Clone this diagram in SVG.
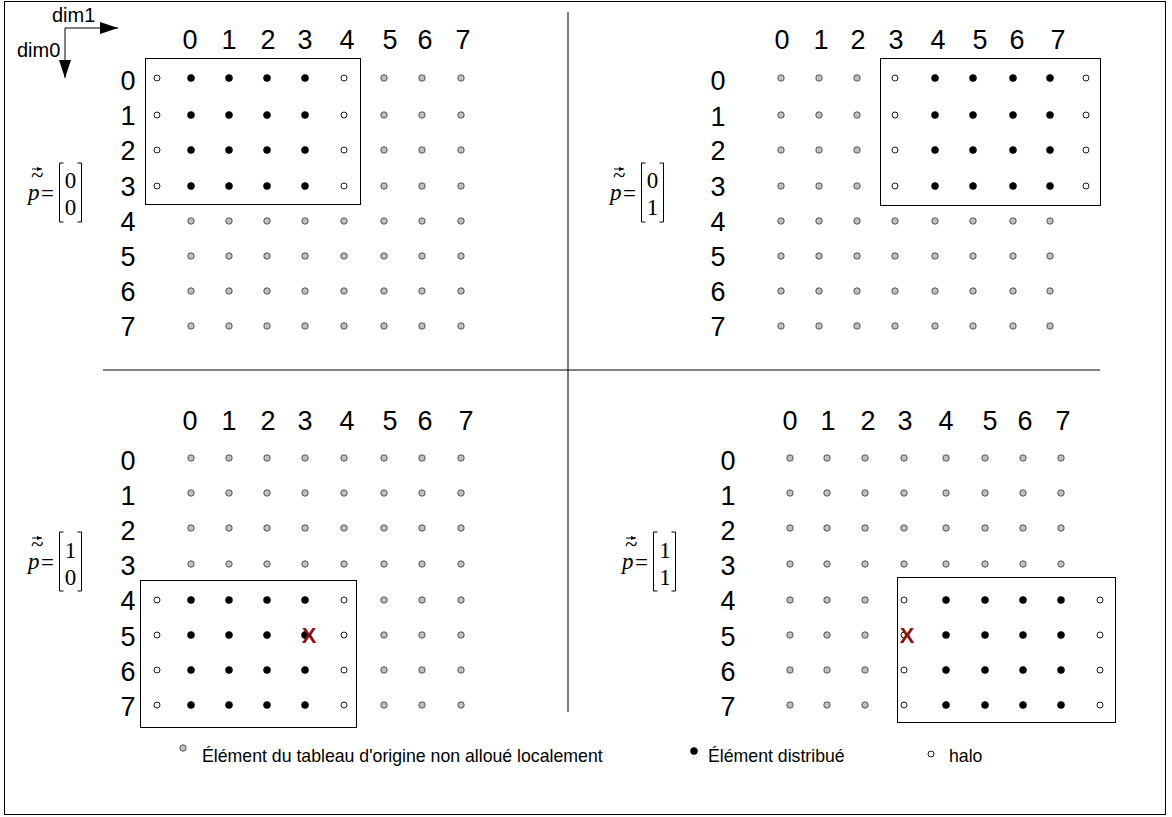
<svg xmlns="http://www.w3.org/2000/svg" width="1172" height="817" viewBox="0 0 1172 817">
<style>
.lbl{font-family:"Liberation Sans",Arial,sans-serif;font-size:27px;fill:#000;text-anchor:middle}
.leg{font-family:"Liberation Sans",Arial,sans-serif;font-size:17.7px;fill:#000}
.dim{font-family:"Liberation Sans",Arial,sans-serif;font-size:20px;fill:#000}
.ser{font-family:"Liberation Serif","Times New Roman",serif;font-size:23px;fill:#000}
.g{fill:#c0c0c0;stroke:#333;stroke-width:0.8}
.b{fill:#000;stroke:#000;stroke-width:0.6}
.h{fill:#fff;stroke:#000;stroke-width:0.9}
.box{fill:none;stroke:#000;stroke-width:1}
.line{fill:none;stroke:#000;stroke-width:1}
.x{font-family:"Liberation Sans",Arial,sans-serif;font-size:22px;font-weight:bold;fill:#8b1010;text-anchor:middle}
</style>
<defs>
<marker id="arrBig" markerWidth="18" markerHeight="12" refX="18" refY="6" orient="auto" markerUnits="userSpaceOnUse"><path d="M0,0 L18,6 L0,12 Z" fill="#000"/></marker>
<marker id="arrS" markerWidth="5" markerHeight="4" refX="5" refY="2" orient="auto" markerUnits="userSpaceOnUse"><path d="M0,0 L5,2 L0,4 Z" fill="#000"/></marker>
<g id="pv">
<text class="ser" x="28" y="200" font-style="italic" font-size="27">p</text>
<text class="ser" x="31" y="183" font-size="16">~</text>
<path d="M32,169 L42,169" stroke="#000" stroke-width="1" marker-end="url(#arrS)"/>
<text class="ser" x="41" y="201" font-size="25">=</text>
<path d="M63.5,163 L59.5,163 L59.5,222 L63.5,222" class="line" stroke-width="1.4"/>
<path d="M77.5,163 L81.5,163 L81.5,222 L77.5,222" class="line" stroke-width="1.4"/>
</g>
</defs>
<rect x="4.5" y="1.5" width="1161" height="813" fill="#fff" stroke="#000" stroke-width="1"/>

<g id="axes">
<path d="M65,28 L118,28" class="line" marker-end="url(#arrBig)"/>
<path d="M65,28 L65,78" class="line" marker-end="url(#arrBig)"/>
<text class="dim" x="52" y="22">dim1</text>
<text class="dim" x="17" y="57">dim0</text>
</g>

<g id="separators">
<path d="M568,12 L568,712" class="line"/>
<path d="M103,370 L1100,370" class="line"/>
</g>

<!-- Top-left -->
<g id="q-tl">
<use href="#pv"/>
<text class="ser" x="70.5" y="188" text-anchor="middle">0</text>
<text class="ser" x="70.5" y="215" text-anchor="middle">0</text>
<g>
<text class="lbl" x="190" y="49">0</text><text class="lbl" x="229" y="49">1</text><text class="lbl" x="268" y="49">2</text><text class="lbl" x="305" y="49">3</text><text class="lbl" x="347" y="49">4</text><text class="lbl" x="390" y="49">5</text><text class="lbl" x="425" y="49">6</text><text class="lbl" x="463" y="49">7</text>
<text class="lbl" x="128" y="90">0</text><text class="lbl" x="128" y="125">1</text><text class="lbl" x="128" y="160">2</text><text class="lbl" x="128" y="196">3</text><text class="lbl" x="128" y="231">4</text><text class="lbl" x="128" y="266">5</text><text class="lbl" x="128" y="301">6</text><text class="lbl" x="128" y="336">7</text>
</g>
<rect class="box" x="145.5" y="58.5" width="215" height="146"/>
<g>
<circle class="h" cx="157" cy="78" r="3"/><circle class="b" cx="191" cy="78" r="3.5"/><circle class="b" cx="229" cy="78" r="3.5"/><circle class="b" cx="267" cy="78" r="3.5"/><circle class="b" cx="305" cy="78" r="3.5"/><circle class="h" cx="344" cy="78" r="3"/><circle class="g" cx="384" cy="78" r="3.2"/><circle class="g" cx="422" cy="78" r="3.2"/><circle class="g" cx="461" cy="78" r="3.2"/>
<circle class="h" cx="157" cy="115" r="3"/><circle class="b" cx="191" cy="115" r="3.5"/><circle class="b" cx="229" cy="115" r="3.5"/><circle class="b" cx="267" cy="115" r="3.5"/><circle class="b" cx="305" cy="115" r="3.5"/><circle class="h" cx="344" cy="115" r="3"/><circle class="g" cx="384" cy="115" r="3.2"/><circle class="g" cx="422" cy="115" r="3.2"/><circle class="g" cx="461" cy="115" r="3.2"/>
<circle class="h" cx="157" cy="150" r="3"/><circle class="b" cx="191" cy="150" r="3.5"/><circle class="b" cx="229" cy="150" r="3.5"/><circle class="b" cx="267" cy="150" r="3.5"/><circle class="b" cx="305" cy="150" r="3.5"/><circle class="h" cx="344" cy="150" r="3"/><circle class="g" cx="384" cy="150" r="3.2"/><circle class="g" cx="422" cy="150" r="3.2"/><circle class="g" cx="461" cy="150" r="3.2"/>
<circle class="h" cx="157" cy="186" r="3"/><circle class="b" cx="191" cy="186" r="3.5"/><circle class="b" cx="229" cy="186" r="3.5"/><circle class="b" cx="267" cy="186" r="3.5"/><circle class="b" cx="305" cy="186" r="3.5"/><circle class="h" cx="344" cy="186" r="3"/><circle class="g" cx="384" cy="186" r="3.2"/><circle class="g" cx="422" cy="186" r="3.2"/><circle class="g" cx="461" cy="186" r="3.2"/>
<circle class="g" cx="191" cy="221" r="3.2"/><circle class="g" cx="229" cy="221" r="3.2"/><circle class="g" cx="267" cy="221" r="3.2"/><circle class="g" cx="305" cy="221" r="3.2"/><circle class="g" cx="344" cy="221" r="3.2"/><circle class="g" cx="384" cy="221" r="3.2"/><circle class="g" cx="422" cy="221" r="3.2"/><circle class="g" cx="461" cy="221" r="3.2"/>
<circle class="g" cx="191" cy="256" r="3.2"/><circle class="g" cx="229" cy="256" r="3.2"/><circle class="g" cx="267" cy="256" r="3.2"/><circle class="g" cx="305" cy="256" r="3.2"/><circle class="g" cx="344" cy="256" r="3.2"/><circle class="g" cx="384" cy="256" r="3.2"/><circle class="g" cx="422" cy="256" r="3.2"/><circle class="g" cx="461" cy="256" r="3.2"/>
<circle class="g" cx="191" cy="291" r="3.2"/><circle class="g" cx="229" cy="291" r="3.2"/><circle class="g" cx="267" cy="291" r="3.2"/><circle class="g" cx="305" cy="291" r="3.2"/><circle class="g" cx="344" cy="291" r="3.2"/><circle class="g" cx="384" cy="291" r="3.2"/><circle class="g" cx="422" cy="291" r="3.2"/><circle class="g" cx="461" cy="291" r="3.2"/>
<circle class="g" cx="191" cy="326" r="3.2"/><circle class="g" cx="229" cy="326" r="3.2"/><circle class="g" cx="267" cy="326" r="3.2"/><circle class="g" cx="305" cy="326" r="3.2"/><circle class="g" cx="344" cy="326" r="3.2"/><circle class="g" cx="384" cy="326" r="3.2"/><circle class="g" cx="422" cy="326" r="3.2"/><circle class="g" cx="461" cy="326" r="3.2"/>
</g>
</g>

<!-- Top-right -->
<g id="q-tr">
<use href="#pv" x="582" y="0"/>
<text class="ser" x="652.5" y="188" text-anchor="middle">0</text>
<text class="ser" x="652.5" y="215" text-anchor="middle">1</text>
<g>
<text class="lbl" x="782" y="49">0</text><text class="lbl" x="821" y="49">1</text><text class="lbl" x="858" y="49">2</text><text class="lbl" x="896" y="49">3</text><text class="lbl" x="938" y="49">4</text><text class="lbl" x="980" y="49">5</text><text class="lbl" x="1017" y="49">6</text><text class="lbl" x="1058" y="49">7</text>
<text class="lbl" x="718" y="90">0</text><text class="lbl" x="718" y="126">1</text><text class="lbl" x="718" y="160">2</text><text class="lbl" x="718" y="196">3</text><text class="lbl" x="718" y="231">4</text><text class="lbl" x="718" y="266">5</text><text class="lbl" x="718" y="301">6</text><text class="lbl" x="718" y="336">7</text>
</g>
<rect class="box" x="880.5" y="58.5" width="220" height="147"/>
<g>
<circle class="g" cx="781" cy="78" r="3.2"/><circle class="g" cx="819" cy="78" r="3.2"/><circle class="g" cx="857" cy="78" r="3.2"/><circle class="h" cx="895" cy="78" r="3"/><circle class="b" cx="935" cy="78" r="3.5"/><circle class="b" cx="973" cy="78" r="3.5"/><circle class="b" cx="1013" cy="78" r="3.5"/><circle class="b" cx="1050" cy="78" r="3.5"/><circle class="h" cx="1086" cy="78" r="3"/>
<circle class="g" cx="781" cy="115" r="3.2"/><circle class="g" cx="819" cy="115" r="3.2"/><circle class="g" cx="857" cy="115" r="3.2"/><circle class="h" cx="895" cy="115" r="3"/><circle class="b" cx="935" cy="115" r="3.5"/><circle class="b" cx="973" cy="115" r="3.5"/><circle class="b" cx="1013" cy="115" r="3.5"/><circle class="b" cx="1050" cy="115" r="3.5"/><circle class="h" cx="1086" cy="115" r="3"/>
<circle class="g" cx="781" cy="150" r="3.2"/><circle class="g" cx="819" cy="150" r="3.2"/><circle class="g" cx="857" cy="150" r="3.2"/><circle class="h" cx="895" cy="150" r="3"/><circle class="b" cx="935" cy="150" r="3.5"/><circle class="b" cx="973" cy="150" r="3.5"/><circle class="b" cx="1013" cy="150" r="3.5"/><circle class="b" cx="1050" cy="150" r="3.5"/><circle class="h" cx="1086" cy="150" r="3"/>
<circle class="g" cx="781" cy="186" r="3.2"/><circle class="g" cx="819" cy="186" r="3.2"/><circle class="g" cx="857" cy="186" r="3.2"/><circle class="h" cx="895" cy="186" r="3"/><circle class="b" cx="935" cy="186" r="3.5"/><circle class="b" cx="973" cy="186" r="3.5"/><circle class="b" cx="1013" cy="186" r="3.5"/><circle class="b" cx="1050" cy="186" r="3.5"/><circle class="h" cx="1086" cy="186" r="3"/>
<circle class="g" cx="781" cy="221" r="3.2"/><circle class="g" cx="819" cy="221" r="3.2"/><circle class="g" cx="857" cy="221" r="3.2"/><circle class="g" cx="895" cy="221" r="3.2"/><circle class="g" cx="935" cy="221" r="3.2"/><circle class="g" cx="973" cy="221" r="3.2"/><circle class="g" cx="1013" cy="221" r="3.2"/><circle class="g" cx="1050" cy="221" r="3.2"/>
<circle class="g" cx="781" cy="256" r="3.2"/><circle class="g" cx="819" cy="256" r="3.2"/><circle class="g" cx="857" cy="256" r="3.2"/><circle class="g" cx="895" cy="256" r="3.2"/><circle class="g" cx="935" cy="256" r="3.2"/><circle class="g" cx="973" cy="256" r="3.2"/><circle class="g" cx="1013" cy="256" r="3.2"/><circle class="g" cx="1050" cy="256" r="3.2"/>
<circle class="g" cx="781" cy="291" r="3.2"/><circle class="g" cx="819" cy="291" r="3.2"/><circle class="g" cx="857" cy="291" r="3.2"/><circle class="g" cx="895" cy="291" r="3.2"/><circle class="g" cx="935" cy="291" r="3.2"/><circle class="g" cx="973" cy="291" r="3.2"/><circle class="g" cx="1013" cy="291" r="3.2"/><circle class="g" cx="1050" cy="291" r="3.2"/>
<circle class="g" cx="781" cy="326" r="3.2"/><circle class="g" cx="819" cy="326" r="3.2"/><circle class="g" cx="857" cy="326" r="3.2"/><circle class="g" cx="895" cy="326" r="3.2"/><circle class="g" cx="935" cy="326" r="3.2"/><circle class="g" cx="973" cy="326" r="3.2"/><circle class="g" cx="1013" cy="326" r="3.2"/><circle class="g" cx="1050" cy="326" r="3.2"/>
</g>
</g>

<!-- Bottom-left -->
<g id="q-bl">
<use href="#pv" x="0" y="369"/>
<text class="ser" x="70.5" y="558" text-anchor="middle">1</text>
<text class="ser" x="70.5" y="585" text-anchor="middle">0</text>
<g>
<text class="lbl" x="190" y="430">0</text><text class="lbl" x="229" y="430">1</text><text class="lbl" x="268" y="430">2</text><text class="lbl" x="305" y="430">3</text><text class="lbl" x="347" y="430">4</text><text class="lbl" x="390" y="430">5</text><text class="lbl" x="425" y="430">6</text><text class="lbl" x="466" y="430">7</text>
<text class="lbl" x="128" y="470">0</text><text class="lbl" x="128" y="505">1</text><text class="lbl" x="128" y="540">2</text><text class="lbl" x="128" y="575">3</text><text class="lbl" x="128" y="610">4</text><text class="lbl" x="128" y="646">5</text><text class="lbl" x="128" y="681">6</text><text class="lbl" x="128" y="716">7</text>
</g>
<rect class="box" x="140.5" y="580.5" width="216" height="147"/>
<g>
<circle class="g" cx="191" cy="458" r="3.2"/><circle class="g" cx="229" cy="458" r="3.2"/><circle class="g" cx="267" cy="458" r="3.2"/><circle class="g" cx="305" cy="458" r="3.2"/><circle class="g" cx="344" cy="458" r="3.2"/><circle class="g" cx="384" cy="458" r="3.2"/><circle class="g" cx="422" cy="458" r="3.2"/><circle class="g" cx="461" cy="458" r="3.2"/>
<circle class="g" cx="191" cy="493" r="3.2"/><circle class="g" cx="229" cy="493" r="3.2"/><circle class="g" cx="267" cy="493" r="3.2"/><circle class="g" cx="305" cy="493" r="3.2"/><circle class="g" cx="344" cy="493" r="3.2"/><circle class="g" cx="384" cy="493" r="3.2"/><circle class="g" cx="422" cy="493" r="3.2"/><circle class="g" cx="461" cy="493" r="3.2"/>
<circle class="g" cx="191" cy="528" r="3.2"/><circle class="g" cx="229" cy="528" r="3.2"/><circle class="g" cx="267" cy="528" r="3.2"/><circle class="g" cx="305" cy="528" r="3.2"/><circle class="g" cx="344" cy="528" r="3.2"/><circle class="g" cx="384" cy="528" r="3.2"/><circle class="g" cx="422" cy="528" r="3.2"/><circle class="g" cx="461" cy="528" r="3.2"/>
<circle class="g" cx="191" cy="564" r="3.2"/><circle class="g" cx="229" cy="564" r="3.2"/><circle class="g" cx="267" cy="564" r="3.2"/><circle class="g" cx="305" cy="564" r="3.2"/><circle class="g" cx="344" cy="564" r="3.2"/><circle class="g" cx="384" cy="564" r="3.2"/><circle class="g" cx="422" cy="564" r="3.2"/><circle class="g" cx="461" cy="564" r="3.2"/>
<circle class="h" cx="157" cy="600" r="3"/><circle class="b" cx="191" cy="600" r="3.5"/><circle class="b" cx="229" cy="600" r="3.5"/><circle class="b" cx="267" cy="600" r="3.5"/><circle class="b" cx="305" cy="600" r="3.5"/><circle class="h" cx="344" cy="600" r="3"/><circle class="g" cx="384" cy="600" r="3.2"/><circle class="g" cx="422" cy="600" r="3.2"/><circle class="g" cx="461" cy="600" r="3.2"/>
<circle class="h" cx="157" cy="635" r="3"/><circle class="b" cx="191" cy="635" r="3.5"/><circle class="b" cx="229" cy="635" r="3.5"/><circle class="b" cx="267" cy="635" r="3.5"/><circle class="b" cx="305" cy="635" r="3.5"/><circle class="h" cx="344" cy="635" r="3"/><circle class="g" cx="384" cy="635" r="3.2"/><circle class="g" cx="422" cy="635" r="3.2"/><circle class="g" cx="461" cy="635" r="3.2"/>
<circle class="h" cx="157" cy="670" r="3"/><circle class="b" cx="191" cy="670" r="3.5"/><circle class="b" cx="229" cy="670" r="3.5"/><circle class="b" cx="267" cy="670" r="3.5"/><circle class="b" cx="305" cy="670" r="3.5"/><circle class="h" cx="344" cy="670" r="3"/><circle class="g" cx="384" cy="670" r="3.2"/><circle class="g" cx="422" cy="670" r="3.2"/><circle class="g" cx="461" cy="670" r="3.2"/>
<circle class="h" cx="157" cy="705" r="3"/><circle class="b" cx="191" cy="705" r="3.5"/><circle class="b" cx="229" cy="705" r="3.5"/><circle class="b" cx="267" cy="705" r="3.5"/><circle class="b" cx="305" cy="705" r="3.5"/><circle class="h" cx="344" cy="705" r="3"/><circle class="g" cx="384" cy="705" r="3.2"/><circle class="g" cx="422" cy="705" r="3.2"/><circle class="g" cx="461" cy="705" r="3.2"/>
</g>
<text class="x" x="309" y="643">X</text>
</g>

<!-- Bottom-right -->
<g id="q-br">
<use href="#pv" x="594" y="369"/>
<text class="ser" x="665" y="558" text-anchor="middle">1</text>
<text class="ser" x="665" y="585" text-anchor="middle">1</text>
<g>
<text class="lbl" x="790" y="430">0</text><text class="lbl" x="828" y="430">1</text><text class="lbl" x="868" y="430">2</text><text class="lbl" x="905" y="430">3</text><text class="lbl" x="946" y="430">4</text><text class="lbl" x="990" y="430">5</text><text class="lbl" x="1025" y="430">6</text><text class="lbl" x="1063" y="430">7</text>
<text class="lbl" x="728" y="470">0</text><text class="lbl" x="728" y="505">1</text><text class="lbl" x="728" y="540">2</text><text class="lbl" x="728" y="575">3</text><text class="lbl" x="728" y="610">4</text><text class="lbl" x="728" y="646">5</text><text class="lbl" x="728" y="681">6</text><text class="lbl" x="728" y="716">7</text>
</g>
<rect class="box" x="897.5" y="577.5" width="218" height="145"/>
<g>
<circle class="g" cx="790" cy="458" r="3.2"/><circle class="g" cx="827" cy="458" r="3.2"/><circle class="g" cx="865" cy="458" r="3.2"/><circle class="g" cx="904" cy="458" r="3.2"/><circle class="g" cx="946" cy="458" r="3.2"/><circle class="g" cx="985" cy="458" r="3.2"/><circle class="g" cx="1023" cy="458" r="3.2"/><circle class="g" cx="1061" cy="458" r="3.2"/>
<circle class="g" cx="790" cy="493" r="3.2"/><circle class="g" cx="827" cy="493" r="3.2"/><circle class="g" cx="865" cy="493" r="3.2"/><circle class="g" cx="904" cy="493" r="3.2"/><circle class="g" cx="946" cy="493" r="3.2"/><circle class="g" cx="985" cy="493" r="3.2"/><circle class="g" cx="1023" cy="493" r="3.2"/><circle class="g" cx="1061" cy="493" r="3.2"/>
<circle class="g" cx="790" cy="528" r="3.2"/><circle class="g" cx="827" cy="528" r="3.2"/><circle class="g" cx="865" cy="528" r="3.2"/><circle class="g" cx="904" cy="528" r="3.2"/><circle class="g" cx="946" cy="528" r="3.2"/><circle class="g" cx="985" cy="528" r="3.2"/><circle class="g" cx="1023" cy="528" r="3.2"/><circle class="g" cx="1061" cy="528" r="3.2"/>
<circle class="g" cx="790" cy="564" r="3.2"/><circle class="g" cx="827" cy="564" r="3.2"/><circle class="g" cx="865" cy="564" r="3.2"/><circle class="g" cx="904" cy="564" r="3.2"/><circle class="g" cx="946" cy="564" r="3.2"/><circle class="g" cx="985" cy="564" r="3.2"/><circle class="g" cx="1023" cy="564" r="3.2"/><circle class="g" cx="1061" cy="564" r="3.2"/>
<circle class="g" cx="790" cy="600" r="3.2"/><circle class="g" cx="827" cy="600" r="3.2"/><circle class="g" cx="865" cy="600" r="3.2"/><circle class="h" cx="904" cy="600" r="3"/><circle class="b" cx="946" cy="600" r="3.5"/><circle class="b" cx="985" cy="600" r="3.5"/><circle class="b" cx="1023" cy="600" r="3.5"/><circle class="b" cx="1061" cy="600" r="3.5"/><circle class="h" cx="1100" cy="600" r="3"/>
<circle class="g" cx="790" cy="635" r="3.2"/><circle class="g" cx="827" cy="635" r="3.2"/><circle class="g" cx="865" cy="635" r="3.2"/><circle class="h" cx="904" cy="635" r="3"/><circle class="b" cx="946" cy="635" r="3.5"/><circle class="b" cx="985" cy="635" r="3.5"/><circle class="b" cx="1023" cy="635" r="3.5"/><circle class="b" cx="1061" cy="635" r="3.5"/><circle class="h" cx="1100" cy="635" r="3"/>
<circle class="g" cx="790" cy="670" r="3.2"/><circle class="g" cx="827" cy="670" r="3.2"/><circle class="g" cx="865" cy="670" r="3.2"/><circle class="h" cx="904" cy="670" r="3"/><circle class="b" cx="946" cy="670" r="3.5"/><circle class="b" cx="985" cy="670" r="3.5"/><circle class="b" cx="1023" cy="670" r="3.5"/><circle class="b" cx="1061" cy="670" r="3.5"/><circle class="h" cx="1100" cy="670" r="3"/>
<circle class="g" cx="790" cy="705" r="3.2"/><circle class="g" cx="827" cy="705" r="3.2"/><circle class="g" cx="865" cy="705" r="3.2"/><circle class="h" cx="904" cy="705" r="3"/><circle class="b" cx="946" cy="705" r="3.5"/><circle class="b" cx="985" cy="705" r="3.5"/><circle class="b" cx="1023" cy="705" r="3.5"/><circle class="b" cx="1061" cy="705" r="3.5"/><circle class="h" cx="1100" cy="705" r="3"/>
</g>
<text class="x" x="907" y="643">X</text>
</g>

<g id="legend">
<circle class="g" cx="183" cy="748" r="3.2"/>
<text class="leg" x="202" y="762">Élément du tableau d'origine non alloué localement</text>
<circle class="b" cx="694" cy="751" r="3.5"/>
<text class="leg" x="708" y="762">Élément distribué</text>
<circle class="h" cx="931" cy="754" r="3"/>
<text class="leg" x="949" y="762">halo</text>
</g>
</svg>
